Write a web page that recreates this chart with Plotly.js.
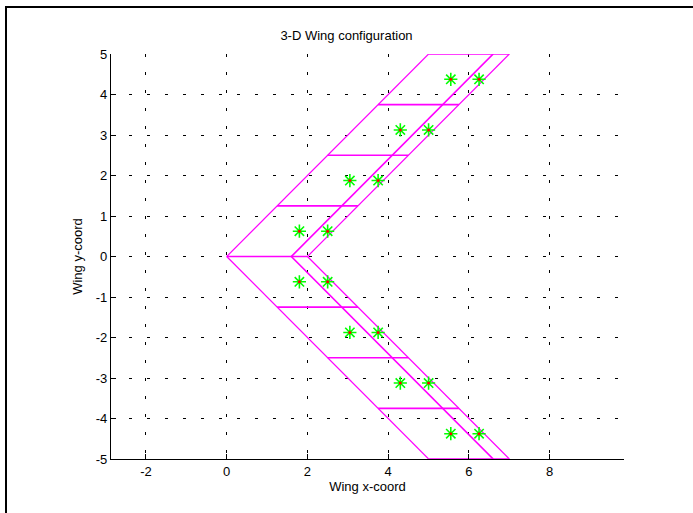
<!DOCTYPE html>
<html>
<head>
<meta charset="utf-8">
<script src="https://cdn.plot.ly/plotly-3.0.1.min.js"></script>
<style>
  html, body { margin: 0; padding: 0; background: #fff; }
  #wrap { position: relative; width: 693px; height: 513px; overflow: hidden; }
  #frame { position: absolute; left: 5px; top: 6px; width: 700px; height: 520px;
           border-top: 2px solid #000; border-left: 2px solid #000; pointer-events: none; }
  #chart { position: absolute; left: 0; top: 0; width: 693px; height: 513px; }
</style>
</head>
<body>
<div id="wrap">
  <div id="chart"></div>
  <div id="frame"></div>
</div>
<script>
// Wing outline edges, one array pair per half-wing (root -> tip)
const leadingUpperX = [0, 5];
const leadingUpperY = [0, 5];
const leadingLowerX = [0, 5];
const leadingLowerY = [0, -5];
const trailingUpperX = [2, 7];
const trailingUpperY = [0, 5];
const trailingLowerX = [2, 7];
const trailingLowerY = [0, -5];
const innerUpperX = [1.6, 6.6];
const innerUpperY = [0, 5];
const innerLowerX = [1.6, 6.6];
const innerLowerY = [0, -5];

// Chordwise strip boundaries (span stations) with their leading/trailing x
const stationY = [5, 3.75, 2.5, 1.25, 0, -1.25, -2.5, -3.75, -5];
const stationLeX = [5, 3.75, 2.5, 1.25, 0, 1.25, 2.5, 3.75, 5];
const stationTeX = [7, 5.75, 4.5, 3.25, 2, 3.25, 4.5, 5.75, 7];

// Control points (green stars)
const ctrlY = [4.375, 3.125, 1.875, 0.625, -0.625, -1.875, -3.125, -4.375];
const ctrlX1 = [5.55, 4.3, 3.05, 1.8, 1.8, 3.05, 4.3, 5.55];
const ctrlX2 = [6.25, 5.0, 3.75, 2.5, 2.5, 3.75, 5.0, 6.25];

const xTicks = [-2, 0, 2, 4, 6, 8];
const yTicks = [-5, -4, -3, -2, -1, 0, 1, 2, 3, 4, 5];

const magenta = '#ff00ff';
const traces = [];
function seg(x, y, w) {
  traces.push({x: x, y: y, mode: 'lines', line: {color: magenta, width: w}, hoverinfo: 'skip'});
}
seg(trailingUpperX, trailingUpperY, 1.2);
seg(trailingLowerX, trailingLowerY, 1.2);
seg(leadingUpperX, leadingUpperY, 1.2);
seg(leadingLowerX, leadingLowerY, 1.2);
seg(innerUpperX, innerUpperY, 1.7);
seg(innerLowerX, innerLowerY, 1.7);

for (let i = 0; i < stationY.length; i++) {
  seg([stationLeX[i], stationTeX[i]], [stationY[i], stationY[i]], 1.7);
}

// control points
const cx = ctrlX1.concat(ctrlX2);
const cy = ctrlY.concat(ctrlY);
traces.push({x: cx, y: cy, mode: 'markers',
  marker: {symbol: 'asterisk-open', size: 11, color: '#00ff00', line: {color: '#00ff00', width: 1.6}},
  hoverinfo: 'skip'});
traces.push({x: cx, y: cy, mode: 'markers',
  marker: {symbol: 'circle', size: 3, color: '#ff0000', line: {width: 0}}, hoverinfo: 'skip'});

const font = {family: 'Liberation Sans, Arial, sans-serif', size: 13, color: '#000'};
const axisCommon = {
  showline: true, linecolor: '#000', linewidth: 1.2, mirror: false,
  ticks: 'inside', ticklen: 5, tickcolor: '#000', tickwidth: 1,
  showgrid: true, gridcolor: '#000', gridwidth: 1, griddash: '3px,15px',
  zeroline: false, tickfont: font, fixedrange: true
};

const layout = {
  width: 693, height: 513,
  margin: {l: 111, r: 69, t: 54, b: 54},
  paper_bgcolor: '#fff', plot_bgcolor: '#fff',
  showlegend: false,
  font: font,
  title: {text: '3-D Wing configuration', font: font, x: 0.5, xanchor: 'center', y: 0.93, yanchor: 'middle'},
  xaxis: Object.assign({}, axisCommon, {
    range: [-2.866, 9.84], tickmode: 'array', tickvals: xTicks,
    ticktext: xTicks.map(String),
    title: {text: 'Wing x-coord', font: font, standoff: 4}
  }),
  yaxis: Object.assign({}, axisCommon, {
    range: [-5, 5], tickmode: 'array', tickvals: yTicks,
    ticktext: yTicks.map(String),
    title: {text: 'Wing y-coord', font: font, standoff: 10}
  })
};

Plotly.newPlot('chart', traces, layout, {displayModeBar: false, staticPlot: true});
</script>
</body>
</html>
